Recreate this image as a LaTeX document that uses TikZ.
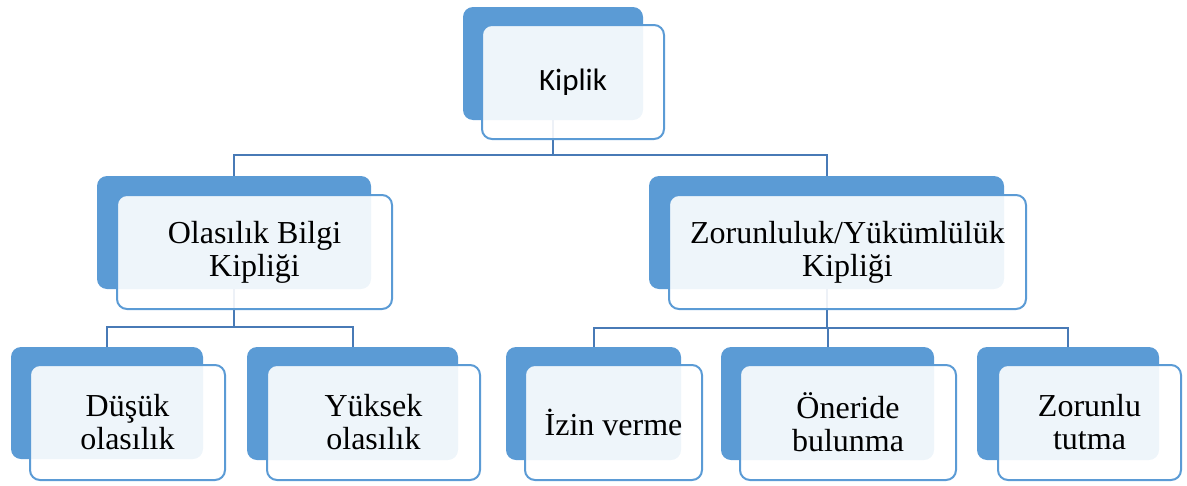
\documentclass[tikz,border=0pt]{standalone}
\usepackage{fontspec}
\setmainfont{Liberation Serif}
\newfontfamily\calib{Carlito}
\definecolor{bl}{RGB}{91,155,213}
\definecolor{ln}{RGB}{72,122,182}
\begin{document}
\begin{tikzpicture}[x=1pt,y=-1pt,
  back/.style={fill=bl, rounded corners=10pt, inner sep=0pt, outer sep=0pt},
  front/.style={draw=bl, line width=2pt, fill=white, fill opacity=0.9, text opacity=1,
    rounded corners=10pt, inner sep=0pt, outer sep=0pt, align=center,
    font=\fontsize{32}{33}\selectfont},
  conn/.style={draw=ln, line width=2pt}]
\useasboundingbox (0,0) rectangle (1187,485);
% back rectangles
\node[back, minimum width=180pt, minimum height=113pt] (kb) at (553,63.5) {};
\node[back, minimum width=274pt, minimum height=113pt] (ob) at (234,232.5) {};
\node[back, minimum width=355pt, minimum height=113pt] (zb) at (826.5,232.5) {};
\node[back, minimum width=192pt, minimum height=112pt] (db) at (107,403) {};
\node[back, minimum width=211pt, minimum height=113pt] (yb) at (352.5,403.5) {};
\node[back, minimum width=175pt, minimum height=113pt] (ib) at (593.5,403.5) {};
\node[back, minimum width=213pt, minimum height=113pt] (nb) at (827.5,403.5) {};
\node[back, minimum width=182pt, minimum height=113pt] (tb) at (1068,403.5) {};
% connectors
\draw[conn] (kb.south) -- ++(0,35) -| (ob.north);
\draw[conn] (kb.south) -- ++(0,35) -| (zb.north);
\draw[conn] (ob.south) -- ++(0,38) -| (db.north);
\draw[conn] (ob.south) -- ++(0,38) -| (yb.north);
\draw[conn] (zb.south) -- ++(0,39) -| (ib.north);
\draw[conn] (zb.south) -- ++(0,39) -| (nb.north);
\draw[conn] (zb.south) -- ++(0,39) -| (tb.north);
% front rectangles
\node[front, minimum width=182pt, minimum height=114pt, font=\calib\fontsize{31}{33}\selectfont] (k) at (573,82) {Kiplik};
\node[front, minimum width=275pt, minimum height=114pt] (o) at (254.5,252) {Olasılık Bilgi\\Kipliği};
\node[front, minimum width=357pt, minimum height=114pt] (z) at (847.5,252) {Zorunluluk/Yükümlülük\\Kipliği};
\node[front, minimum width=195pt, minimum height=115pt] (d) at (127.5,422.5) {Düşük\\olasılık};
\node[front, minimum width=213pt, minimum height=115pt] (y) at (373.5,422.5) {Yüksek\\olasılık};
\node[front, minimum width=177pt, minimum height=115pt] (i) at (613.5,422.5) {İzin verme};
\node[front, minimum width=216pt, minimum height=115pt] (n) at (848,422.5) {Öneride\\bulunma};
\node[front, minimum width=183pt, minimum height=115pt] (t) at (1089.5,422.5) {Zorunlu\\tutma};
\end{tikzpicture}
\end{document}
